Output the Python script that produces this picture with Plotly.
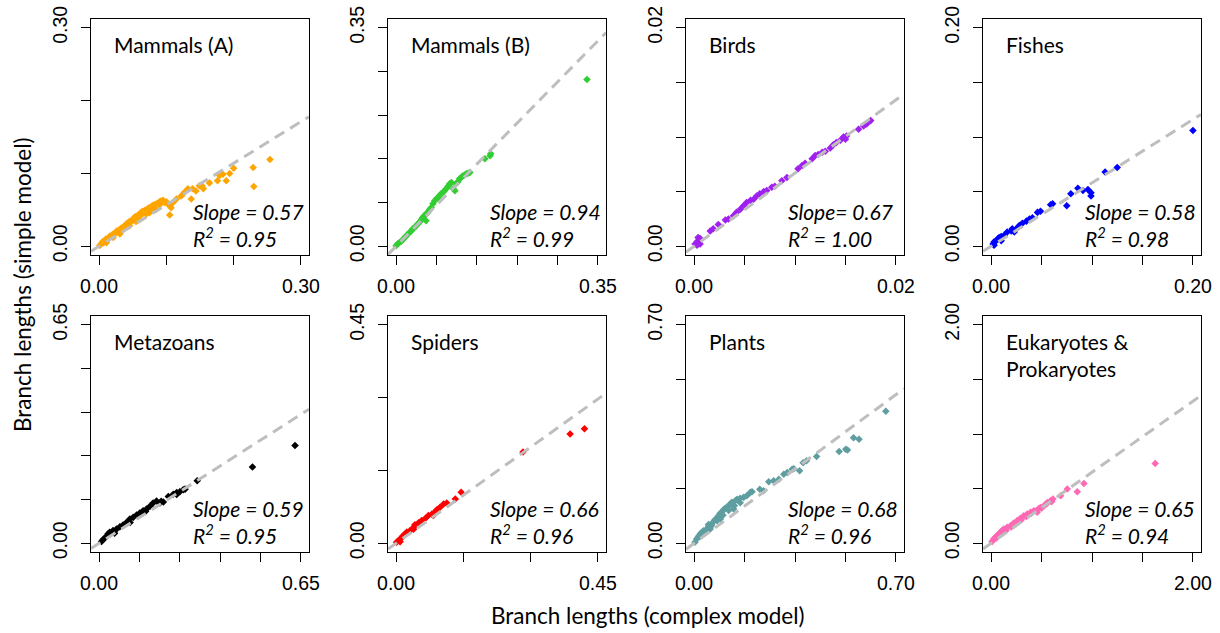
import plotly.graph_objects as go

# ---------------- data ----------------
titles = ["Mammals (A)", "Mammals (B)", "Birds", "Fishes",
          "Metazoans", "Spiders", "Plants", "Eukaryotes &<br>Prokaryotes"]
colors = ["#FFA500", "#32CD32", "#A020F0", "#0000FF",
          "#000000", "#FF0000", "#5F9EA0", "#FF69B4"]
axis_max = [0.30, 0.35, 0.02, 0.20, 0.65, 0.45, 0.70, 2.00]
axis_labels = ["0.30", "0.35", "0.02", "0.20", "0.65", "0.45", "0.70", "2.00"]
n_ticks = [4, 6, 5, 5, 6, 4, 5, 5]
slopes = [0.57, 0.94, 0.67, 0.58, 0.59, 0.66, 0.68, 0.65]
slope_labels = ["Slope = 0.57", "Slope = 0.94", "Slope= 0.67", "Slope = 0.58",
                "Slope = 0.59", "Slope = 0.66", "Slope = 0.68", "Slope = 0.65"]
r2_labels = ["0.95", "0.99", "1.00", "0.98", "0.95", "0.96", "0.96", "0.94"]

mammals_a_x = [0.001, 0.003, 0.006, 0.008, 0.011, 0.013, 0.016, 0.018, 0.021, 0.023, 0.026, 0.028,
               0.031, 0.033, 0.036, 0.038, 0.041, 0.043, 0.045, 0.048, 0.050, 0.053, 0.055, 0.058,
               0.060, 0.063, 0.065, 0.068, 0.070, 0.073, 0.075, 0.078, 0.080, 0.082, 0.085, 0.087,
               0.090, 0.092, 0.095, 0.097, 0.100, 0.102, 0.105, 0.107, 0.105, 0.110, 0.115, 0.122,
               0.127, 0.132, 0.139, 0.137, 0.144, 0.149, 0.153, 0.155, 0.164, 0.176, 0.179, 0.184,
               0.189, 0.194, 0.200, 0.229, 0.230, 0.254,
               0.011, 0.031, 0.060, 0.085, 0.021, 0.045, 0.070,
               0.005, 0.016, 0.026, 0.040, 0.052, 0.065, 0.078, 0.090,
               0.010, 0.020, 0.030, 0.040, 0.050, 0.060, 0.070, 0.080, 0.090, 0.035, 0.055, 0.075]
mammals_a_y = [0.001, 0.003, 0.005, 0.006, 0.009, 0.010, 0.012, 0.014, 0.016, 0.017, 0.019, 0.021,
               0.023, 0.025, 0.026, 0.028, 0.031, 0.032, 0.034, 0.035, 0.037, 0.040, 0.041, 0.043,
               0.044, 0.047, 0.048, 0.049, 0.050, 0.052, 0.053, 0.055, 0.056, 0.057, 0.058, 0.059,
               0.061, 0.062, 0.063, 0.060, 0.061, 0.058, 0.056, 0.053, 0.043, 0.060, 0.065, 0.069,
               0.074, 0.079, 0.079, 0.065, 0.076, 0.083, 0.083, 0.079, 0.087, 0.090, 0.097, 0.099,
               0.090, 0.100, 0.107, 0.108, 0.082, 0.119,
               0.005, 0.017, 0.037, 0.051, 0.012, 0.028, 0.044,
               0.006, 0.014, 0.021, 0.030, 0.037, 0.045, 0.052, 0.057,
               0.010, 0.016, 0.022, 0.029, 0.035, 0.041, 0.047, 0.052, 0.058, 0.022, 0.034, 0.046]

mammals_b_x = [0.000, 0.003, 0.006, 0.009, 0.012, 0.015, 0.017, 0.020, 0.023, 0.026, 0.029, 0.032,
               0.035, 0.038, 0.041, 0.044, 0.046, 0.049, 0.052, 0.052, 0.055, 0.058, 0.061, 0.064,
               0.067, 0.070, 0.073, 0.075, 0.078, 0.081, 0.084, 0.087, 0.090, 0.093, 0.096, 0.099,
               0.102, 0.104, 0.107, 0.110, 0.113, 0.116, 0.119, 0.122, 0.125, 0.128, 0.154, 0.163,
               0.164, 0.331]
mammals_b_y = [0.001, 0.004, 0.006, 0.008, 0.011, 0.014, 0.016, 0.019, 0.022, 0.024, 0.028, 0.030,
               0.033, 0.036, 0.039, 0.043, 0.046, 0.049, 0.052, 0.041, 0.054, 0.059, 0.062, 0.068,
               0.073, 0.076, 0.078, 0.081, 0.084, 0.086, 0.089, 0.092, 0.096, 0.100, 0.102, 0.092,
               0.089, 0.100, 0.103, 0.108, 0.110, 0.113, 0.114, 0.116, 0.117, 0.118, 0.140, 0.145,
               0.148, 0.267]

birds_x = [0.0001, 0.0003, 0.0004, 0.0006, 0.0006, 0.0003, 0.0004, 0.0016, 0.0019, 0.0024, 0.0031,
           0.0034, 0.0039, 0.0042, 0.0046, 0.0049, 0.0052, 0.0056, 0.0059, 0.0062, 0.0065, 0.0069,
           0.0072, 0.0077, 0.0080, 0.0087, 0.0092, 0.0103, 0.0107, 0.0110, 0.0117, 0.0120, 0.0123,
           0.0127, 0.0130, 0.0135, 0.0138, 0.0141, 0.0145, 0.0148, 0.0151, 0.0150, 0.0163, 0.0168,
           0.0171, 0.0175]
birds_y = [0.0002, 0.0004, 0.0005, 0.0007, 0.0002, 0.0001, 0.0008, 0.0014, 0.0016, 0.0020, 0.0024,
           0.0025, 0.0028, 0.0031, 0.0034, 0.0037, 0.0040, 0.0042, 0.0043, 0.0046, 0.0048, 0.0050,
           0.0051, 0.0054, 0.0055, 0.0060, 0.0063, 0.0071, 0.0074, 0.0076, 0.0080, 0.0083, 0.0084,
           0.0086, 0.0087, 0.0090, 0.0093, 0.0095, 0.0097, 0.0100, 0.0101, 0.0098, 0.0107, 0.0110,
           0.0112, 0.0115]

fishes_x = [0.002, 0.003, 0.005, 0.007, 0.008, 0.010, 0.013, 0.016, 0.020, 0.021, 0.025, 0.028,
            0.031, 0.035, 0.038, 0.041, 0.046, 0.049, 0.059, 0.061, 0.075, 0.079, 0.086, 0.091,
            0.096, 0.099, 0.099, 0.113, 0.125, 0.200, 0.003, 0.010, 0.023]
fishes_y = [0.002, 0.004, 0.005, 0.007, 0.008, 0.009, 0.010, 0.013, 0.014, 0.016, 0.016, 0.019,
            0.021, 0.023, 0.025, 0.026, 0.031, 0.032, 0.038, 0.039, 0.037, 0.048, 0.053, 0.051,
            0.052, 0.049, 0.046, 0.068, 0.072, 0.106, 0.001, 0.005, 0.013]

metazoans_x = [0.008, 0.013, 0.018, 0.024, 0.029, 0.034, 0.045, 0.056, 0.067, 0.077, 0.088, 0.099,
               0.110, 0.121, 0.131, 0.142, 0.153, 0.164, 0.174, 0.185, 0.196, 0.207, 0.223, 0.239,
               0.250, 0.260, 0.271, 0.277, 0.316, 0.494, 0.631,
               0.050, 0.100, 0.150, 0.200, 0.250]
metazoans_y = [0.005, 0.011, 0.015, 0.021, 0.028, 0.033, 0.038, 0.042, 0.049, 0.054, 0.062, 0.072,
               0.077, 0.084, 0.090, 0.097, 0.102, 0.110, 0.120, 0.126, 0.120, 0.123, 0.139, 0.146,
               0.151, 0.153, 0.159, 0.161, 0.186, 0.227, 0.291,
               0.030, 0.062, 0.095, 0.125, 0.145]

spiders_x = [0.001, 0.005, 0.009, 0.013, 0.016, 0.020, 0.024, 0.031, 0.039, 0.042, 0.050, 0.057,
             0.065, 0.072, 0.080, 0.087, 0.091, 0.098, 0.106, 0.113, 0.132, 0.145, 0.283, 0.388,
             0.420, 0.009, 0.039, 0.083]
spiders_y = [0.002, 0.005, 0.009, 0.012, 0.016, 0.019, 0.023, 0.026, 0.033, 0.038, 0.042, 0.047,
             0.051, 0.057, 0.060, 0.065, 0.069, 0.074, 0.081, 0.083, 0.091, 0.105, 0.188, 0.225,
             0.236, 0.003, 0.029, 0.057]

plants_x = [0.003, 0.009, 0.015, 0.021, 0.027, 0.033, 0.044, 0.050, 0.056, 0.062, 0.067, 0.073,
            0.079, 0.085, 0.091, 0.096, 0.102, 0.108, 0.114, 0.120, 0.125, 0.131, 0.137, 0.143,
            0.149, 0.160, 0.172, 0.183, 0.195, 0.201, 0.228, 0.241, 0.259, 0.276, 0.294, 0.311,
            0.323, 0.340, 0.346, 0.366, 0.378, 0.390, 0.425, 0.503, 0.526, 0.532, 0.553, 0.572,
            0.665,
            0.020, 0.040, 0.060, 0.080, 0.100, 0.120, 0.140, 0.160, 0.050, 0.090, 0.130]
plants_y = [0.003, 0.014, 0.022, 0.030, 0.035, 0.040, 0.046, 0.054, 0.046, 0.062, 0.069, 0.076,
            0.080, 0.088, 0.078, 0.099, 0.107, 0.112, 0.115, 0.120, 0.126, 0.131, 0.110, 0.136,
            0.141, 0.144, 0.147, 0.152, 0.163, 0.165, 0.173, 0.168, 0.197, 0.200, 0.205, 0.221,
            0.227, 0.237, 0.239, 0.232, 0.258, 0.264, 0.278, 0.294, 0.301, 0.299, 0.338, 0.333,
            0.423,
            0.022, 0.040, 0.055, 0.072, 0.090, 0.105, 0.120, 0.130, 0.060, 0.095, 0.125]

eukaryotes_x = [0.010, 0.026, 0.043, 0.060, 0.076, 0.093, 0.109, 0.126, 0.159, 0.192, 0.225, 0.258,
                0.291, 0.324, 0.358, 0.391, 0.424, 0.457, 0.473, 0.490, 0.523, 0.556, 0.589, 0.613,
                0.689, 0.755, 0.854, 0.920, 1.626,
                0.050, 0.100, 0.150, 0.200, 0.250, 0.300, 0.350, 0.400, 0.450, 0.500, 0.550, 0.600]
eukaryotes_y = [0.015, 0.040, 0.055, 0.070, 0.085, 0.100, 0.116, 0.131, 0.146, 0.161, 0.185, 0.207,
                0.228, 0.252, 0.268, 0.283, 0.298, 0.283, 0.319, 0.328, 0.344, 0.374, 0.389, 0.404,
                0.435, 0.496, 0.471, 0.547, 0.730,
                0.045, 0.085, 0.120, 0.150, 0.180, 0.215, 0.245, 0.275, 0.300, 0.320, 0.360, 0.380]

xs = [mammals_a_x, mammals_b_x, birds_x, fishes_x, metazoans_x, spiders_x, plants_x, eukaryotes_x]
ys = [mammals_a_y, mammals_b_y, birds_y, fishes_y, metazoans_y, spiders_y, plants_y, eukaryotes_y]

x_title = "Branch lengths (complex model)"
y_title = "Branch lengths (simple model)"

# ---------------- layout geometry (pixels) ----------------
W, H = 1220, 633
box_left = [91, 388, 686, 983]
box_w = 218
box_top = [19, 316]
box_h = 236

TICK_FONT = dict(family="Liberation Sans, Arial, sans-serif", size=19.5, color="black")
TEXT_FONT = "Lato, Carlito, Calibri, sans-serif"

fig = go.Figure()
layout = dict(width=W, height=H, margin=dict(l=0, r=0, t=0, b=0, autoexpand=False),
              paper_bgcolor="white", plot_bgcolor="white", showlegend=False,
              template="none")
annotations = []

for i in range(8):
    row, col = divmod(i, 4)
    n = i + 1
    xa = "x" if n == 1 else f"x{n}"
    ya = "y" if n == 1 else f"y{n}"
    m = axis_max[i]
    pad = 0.04 * m
    rng = [-pad, m + pad]
    k = n_ticks[i]
    tv = [m * j / (k - 1) for j in range(k)]
    tt = ["0.00"] + [""] * (k - 2) + [axis_labels[i]]

    x0 = box_left[col] / W
    x1 = (box_left[col] + box_w) / W
    y1 = 1 - box_top[row] / H
    y0 = 1 - (box_top[row] + box_h) / H

    common = dict(range=rng, tickmode="array", tickvals=tv, ticktext=tt,
                  ticks="outside", ticklen=9, tickwidth=1.3, tickcolor="black",
                  showline=True, mirror=True, linecolor="black", linewidth=1.4,
                  showgrid=False, zeroline=False, tickfont=TICK_FONT, fixedrange=True,
                  automargin=False)
    layout["xaxis" if n == 1 else f"xaxis{n}"] = dict(
        domain=[x0, x1], anchor=ya, ticklabelstandoff=4, **common)
    layout["yaxis" if n == 1 else f"yaxis{n}"] = dict(
        domain=[y0, y1], anchor=xa, tickangle=-90, ticklabelstandoff=6, **common)

    # points
    fig.add_trace(go.Scatter(x=xs[i], y=ys[i], mode="markers", xaxis=xa, yaxis=ya,
                             marker=dict(symbol="diamond", size=5.8, color=colors[i],
                                         line=dict(width=0)),
                             hoverinfo="skip"))
    # fitted line through origin
    fig.add_trace(go.Scatter(x=[rng[0], rng[1]], y=[slopes[i] * rng[0], slopes[i] * rng[1]],
                             mode="lines", xaxis=xa, yaxis=ya,
                             line=dict(color="#BEBEBE", width=3, dash="11px,7px"),
                             hoverinfo="skip"))

    dom = f"{xa} domain"
    ydom = f"{ya} domain"
    annotations.append(dict(text=titles[i], xref=dom, yref=ydom,
                            x=21 / box_w, y=1 - 11 / box_h, xanchor="left", yanchor="top",
                            align="left", showarrow=False,
                            font=dict(family=TEXT_FONT, size=21, color="black")))
    annotations.append(dict(text=f"<i>{slope_labels[i]}</i>", xref=dom, yref=ydom,
                            x=(box_w - 118) / box_w, y=44 / box_h,
                            xanchor="left", yanchor="middle", showarrow=False,
                            font=dict(family=TEXT_FONT, size=21, color="black")))
    annotations.append(dict(text=f"<i>R<sup>2</sup> = {r2_labels[i]}</i>", xref=dom, yref=ydom,
                            x=(box_w - 118) / box_w, y=18 / box_h,
                            xanchor="left", yanchor="middle", showarrow=False,
                            font=dict(family=TEXT_FONT, size=21, color="black")))

annotations.append(dict(text=x_title, xref="paper", yref="paper",
                        x=648 / W, y=1 - 615 / H, xanchor="center", yanchor="middle",
                        showarrow=False, font=dict(family=TEXT_FONT, size=22.5, color="black")))
annotations.append(dict(text=y_title, xref="paper", yref="paper",
                        x=22 / W, y=1 - 285 / H, xanchor="center", yanchor="middle",
                        textangle=-90, showarrow=False,
                        font=dict(family=TEXT_FONT, size=22.5, color="black")))

layout["annotations"] = annotations
fig.update_layout(**layout)
fig.write_html("out.html", config={"displayModeBar": False},
               post_script="document.body.style.margin='0';document.body.style.padding='0';")
